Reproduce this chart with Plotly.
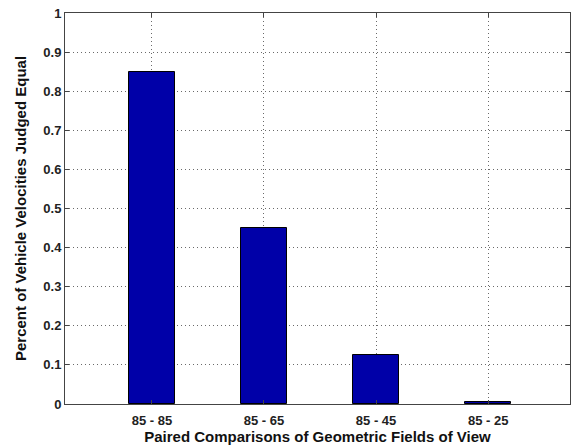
import plotly.graph_objects as go

# Paired field-of-view comparisons and share judged equal
comparisons = ["85 - 85", "85 - 65", "85 - 45", "85 - 25"]
positions = [1, 2, 3, 4]
percent_equal = [0.85, 0.45, 0.125, 0.005]
y_ticks = [0, 0.1, 0.2, 0.3, 0.4, 0.5, 0.6, 0.7, 0.8, 0.9, 1]
y_tick_text = ["0", "0.1", "0.2", "0.3", "0.4", "0.5", "0.6", "0.7", "0.8", "0.9", "1"]

font_family = "Liberation Sans, Arial, sans-serif"

fig = go.Figure(
    go.Bar(
        x=positions,
        y=percent_equal,
        width=0.41,
        marker=dict(color="#0000a8", line=dict(color="#000000", width=1)),
        hoverinfo="skip",
    )
)

axis_common = dict(
    showline=True,
    linecolor="#444444",
    linewidth=1,
    mirror="ticks",
    ticks="inside",
    ticklen=4,
    tickcolor="#444444",
    showgrid=True,
    gridcolor="#6a6a6a",
    griddash="1px,3px",
    gridwidth=1,
    zeroline=False,
    tickfont=dict(family=font_family, size=13, color="#222222", weight="bold"),
)

fig.update_xaxes(
    range=[0.225, 4.73],
    tickvals=positions,
    ticktext=comparisons,
    ticklabelstandoff=4,
    title=dict(
        text="Paired Comparisons of Geometric Fields of View",
        font=dict(family=font_family, size=15, color="#111111", weight="bold"),
        standoff=3,
    ),
    **axis_common,
)
fig.update_yaxes(
    range=[0, 1],
    tickvals=y_ticks,
    ticktext=y_tick_text,
    title=dict(
        text="Percent of Vehicle Velocities Judged Equal",
        font=dict(family=font_family, size=15, color="#111111", weight="bold"),
        standoff=13,
    ),
    **axis_common,
)

fig.update_layout(
    width=571,
    height=446,
    margin=dict(l=65, r=1, t=13, b=42),
    paper_bgcolor="white",
    plot_bgcolor="white",
    showlegend=False,
    bargap=0,
)

fig.write_html("out.html")
